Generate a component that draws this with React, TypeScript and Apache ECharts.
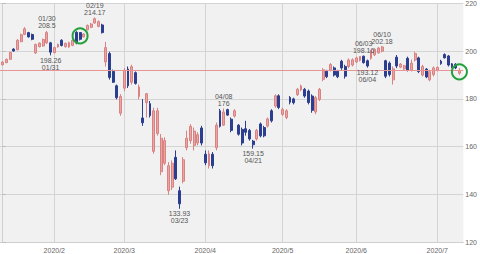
import React, { useEffect, useRef } from "react";
import * as echarts from "echarts";

const dates = [
  "01/13","01/14","01/15","01/16","01/17","01/21","01/22","01/23","01/24","01/27","01/28","01/29","01/30","01/31",
  "02/03","02/04","02/05","02/06","02/07","02/10","02/11","02/12","02/13","02/14","02/18","02/19","02/20","02/21","02/24","02/25","02/26","02/27","02/28",
  "03/02","03/03","03/04","03/05","03/06","03/09","03/10","03/11","03/12","03/13","03/16","03/17","03/18","03/19","03/20","03/23","03/24","03/25","03/26","03/27","03/30","03/31",
  "04/01","04/02","04/03","04/06","04/07","04/08","04/09","04/13","04/14","04/15","04/16","04/17","04/20","04/21","04/22","04/23","04/24","04/27","04/28","04/29","04/30",
  "05/01","05/04","05/05","05/06","05/07","05/08","05/11","05/12","05/13","05/14","05/15","05/18","05/19","05/20","05/21","05/22","05/26","05/27","05/28","05/29",
  "06/01","06/02","06/03","06/04","06/05","06/08","06/09","06/10","06/11","06/12","06/15","06/16","06/17","06/18","06/19","06/22","06/23","06/24","06/25","06/26","06/29","06/30",
  "07/01","07/02","07/06","07/07","07/08","07/09","07/10",
];

const opens = [
  194.3,195.2,196.6,200.9,200.6,204.0,207.0,207.8,207.0,199.3,
  201.9,202.2,203.5,203.5,199.4,201.8,204.6,201.9,201.8,202.4,
  207.9,207.8,206.0,209.0,210.0,211.8,210.4,211.0,195.5,199.0,
  191.5,185.5,174.0,184.5,192.5,187.0,191.0,181.0,172.0,178.4,
  178.0,158.0,165.5,149.5,153.0,141.5,143.0,155.5,141.5,145.5,
  159.5,162.5,160.5,161.5,167.8,156.8,152.0,156.8,159.5,175.0,
  169.0,175.5,171.5,172.8,169.0,167.2,167.5,166.8,162.3,163.2,
  169.5,168.0,168.6,175.0,177.0,181.3,173.5,172.2,180.6,180.0,
  181.8,183.8,184.0,183.3,181.2,174.5,179.8,188.2,191.6,192.0,
  193.0,191.6,195.8,193.6,193.6,194.2,195.5,196.2,197.9,196.0,
  197.0,198.5,199.3,200.0,196.0,195.0,188.0,197.5,193.3,192.6,
  197.0,192.0,196.3,197.2,190.0,192.5,188.0,190.2,192.0,195.8,
  198.6,198.0,194.7,194.5,190.8,
];

const closes = [
  195.4,196.6,199.5,200.1,204.6,206.9,209.4,206.0,205.0,202.8,
  203.4,204.9,207.8,199.6,201.5,202.8,202.4,203.3,203.6,204.6,
  203.4,205.0,207.2,210.8,211.4,213.6,212.4,207.8,201.5,189.0,
  187.0,180.5,181.0,192.0,185.5,193.5,186.5,185.0,170.0,182.2,
  173.0,175.0,175.0,163.5,162.5,152.0,153.0,146.5,136.0,154.5,
  163.5,168.5,166.5,165.0,161.5,153.2,157.0,152.0,169.0,168.5,
  174.5,173.2,166.8,175.0,165.2,161.5,166.0,163.2,160.8,166.8,
  164.5,164.5,171.6,170.8,181.3,176.4,175.6,175.0,178.6,178.4,
  184.0,185.4,181.2,178.5,175.2,180.5,184.0,192.2,189.3,194.4,
  190.0,189.3,193.0,189.5,196.3,196.4,197.2,197.8,195.2,193.8,
  200.0,200.8,201.3,201.8,189.5,190.2,192.6,193.8,194.6,193.9,
  192.0,195.0,199.0,191.5,193.6,189.2,191.4,193.0,193.2,194.8,
  197.2,194.2,193.5,193.0,191.9,
];

const lows = [
  194.0,195.0,196.4,199.8,200.4,203.8,206.8,205.7,204.6,198.8,
  201.6,201.9,203.0,198.26,199.1,201.5,202.0,201.5,201.4,202.1,
  202.9,204.5,205.8,208.7,209.7,211.5,210.0,207.4,193.6,188.1,
  186.7,179.8,172.9,183.2,184.6,186.0,186.0,179.8,168.7,172.2,
  172.2,157.0,164.6,148.0,152.2,139.8,141.8,146.0,133.93,144.6,
  158.4,161.2,158.4,160.5,160.5,152.2,150.8,150.8,158.4,168.0,
  168.7,172.9,166.0,172.2,164.6,160.5,164.6,162.5,159.15,162.5,
  163.9,163.9,168.0,170.1,176.3,175.7,172.9,171.5,177.7,177.7,
  181.2,183.2,180.5,177.7,174.2,173.6,179.1,187.4,188.7,191.5,
  189.4,188.7,192.2,188.5,192.9,193.6,195.0,195.7,194.8,193.12,
  196.4,198.0,199.0,199.5,188.7,189.4,186.0,192.9,192.9,192.2,
  191.5,191.5,195.7,190.8,189.4,188.7,187.4,189.4,191.5,194.3,
  197.0,193.6,192.9,192.5,190.1,
];

const highs = [
  195.8,196.9,199.8,201.2,205.0,207.4,210.1,208.1,207.4,203.2,
  203.6,205.3,208.5,203.9,201.9,203.2,205.0,203.6,204.0,205.0,
  208.4,208.0,207.5,211.2,211.8,214.17,212.9,211.5,203.9,199.8,
  192.3,186.0,182.0,192.9,193.6,194.3,191.5,186.0,179.9,182.5,
  179.1,176.3,176.3,165.3,163.9,153.5,154.2,158.4,143.2,155.6,
  166.7,169.4,168.0,166.0,168.7,158.4,158.4,157.7,170.1,175.8,
  176.0,175.9,172.2,175.7,169.4,168.0,170.8,167.4,162.8,167.4,
  170.1,168.7,172.2,175.7,181.9,181.9,176.3,175.7,181.2,180.5,
  184.6,186.0,184.6,183.9,181.9,181.2,184.6,192.9,192.2,195.0,
  193.6,192.2,196.4,194.3,197.0,197.0,197.7,197.9,198.16,196.5,
  200.5,201.2,201.8,202.18,196.4,195.7,193.6,198.4,195.0,194.3,
  197.7,196.5,199.8,197.7,194.3,192.9,192.2,193.6,193.6,196.4,
  199.1,198.4,195.0,195.0,192.9,
];

const year = "2020";
const yTicks = { min: 120, max: 220, interval: 20 };
const markedHighs = ["01/30", "02/19", "04/08", "06/03", "06/10"];
const markedLows = ["01/31", "03/23", "04/21", "06/04"];
const circledDates = ["02/12", "07/10"];

const fmt = (v: number) => String(parseFloat(v.toFixed(2)));

export default function App() {
  const ref = useRef<HTMLDivElement>(null);

  useEffect(() => {
    document.body.style.margin = "0";
    if (!ref.current) return;
    const chart = echarts.init(ref.current, undefined, { renderer: "svg" });

    const monthStarts = dates
      .map((d, i) => (i > 0 && d.slice(0, 2) !== dates[i - 1].slice(0, 2) ? i : -1))
      .filter((i) => i >= 0);

    const candles = dates.map((_, i) => [i, opens[i], closes[i], lows[i], highs[i]]);
    const font = "'Liberation Sans', Arial, sans-serif";
    const textColor = "#666";
    const lastClose = closes[closes.length - 1];

    const labelPoints: any[] = [];
    markedHighs.forEach((d) => {
      const i = dates.indexOf(d);
      labelPoints.push({
        coord: [i, highs[i]],
        label: { position: "top", distance: 1, formatter: `${d}\n${fmt(highs[i])}` },
      });
    });
    markedLows.forEach((d) => {
      const i = dates.indexOf(d);
      labelPoints.push({
        coord: [i, lows[i]],
        label: { position: "bottom", distance: 1, formatter: `${fmt(lows[i])}\n${d}` },
      });
    });
    circledDates.forEach((d) => {
      const i = dates.indexOf(d);
      labelPoints.push({
        coord: [i, (opens[i] + closes[i]) / 2],
        symbol: "circle",
        symbolSize: 15,
        itemStyle: { color: "rgba(0,0,0,0)", borderColor: "#23a03c", borderWidth: 2 },
        label: { show: false },
      });
    });

    chart.setOption({
      animation: false,
      grid: {
        left: 0,
        right: 16.7,
        top: 1,
        bottom: 11.3,
        show: true,
        backgroundColor: "#f1f1f1",
        borderWidth: 0,
      },
      xAxis: {
        type: "value",
        min: -0.744,
        max: 125.06,
        axisLine: { show: true, lineStyle: { color: "#cfcfcf" } },
        axisTick: { show: false, customValues: monthStarts },
        splitLine: { show: true, lineStyle: { color: "#d4d4d4", width: 1 } },
        axisLabel: {
          customValues: monthStarts,
          formatter: (v: number) => `${year}/${Number(dates[Math.round(v)].slice(0, 2))}`,
          fontSize: 7,
          fontFamily: font,
          color: textColor,
          margin: 5,
        },
      },
      yAxis: {
        type: "value",
        position: "right",
        min: yTicks.min,
        max: yTicks.max,
        interval: yTicks.interval,
        axisLine: { show: true, lineStyle: { color: "#cfcfcf" } },
        axisTick: { show: true, length: 3, lineStyle: { color: "#bbb" } },
        axisLabel: { fontSize: 7, fontFamily: font, color: textColor, margin: 2 },
        splitLine: { show: true, lineStyle: { color: "#d4d4d4", width: 1 } },
      },
      series: [
        {
          type: "candlestick",
          data: candles,
          barWidth: 2.4,
          itemStyle: {
            color: "#eba5a5",
            borderColor: "#d98282",
            color0: "#2c3e8f",
            borderColor0: "#2c3e8f",
            borderWidth: 1,
          },
          markLine: {
            silent: true,
            symbol: "none",
            label: { show: false },
            lineStyle: { color: "#e79494", width: 1, type: "solid" },
            data: [{ yAxis: lastClose }],
          },
          markPoint: {
            symbol: "rect",
            symbolSize: [1, 1],
            itemStyle: { color: "rgba(0,0,0,0)" },
            label: {
              show: true,
              fontSize: 7,
              lineHeight: 7,
              fontFamily: font,
              color: "#555",
            },
            data: labelPoints,
          },
        },
      ],
    });

    return () => chart.dispose();
  }, []);

  return <div ref={ref} style={{ width: 480, height: 254 }} />;
}
